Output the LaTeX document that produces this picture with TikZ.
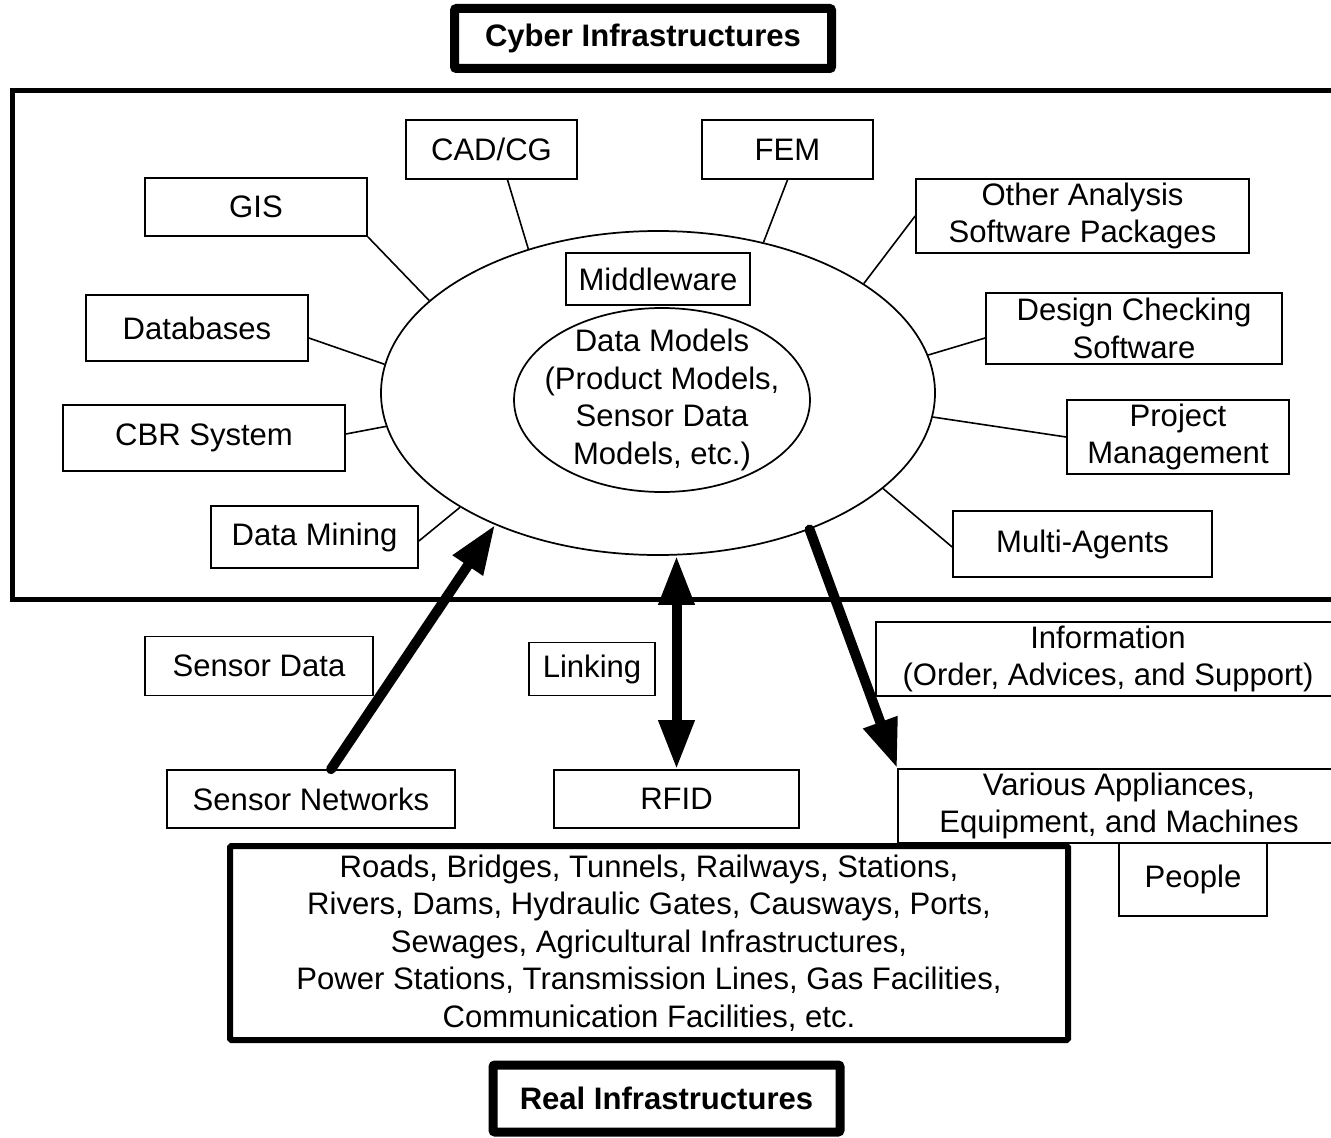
\documentclass[tikz,border=0pt]{standalone}
\usepackage{fontspec}
\setmainfont{Liberation Sans}
\usetikzlibrary{shapes.geometric,arrows.meta,calc}
\begin{document}
\begin{tikzpicture}[x=0.75pt,y=-0.75pt,
  sz/.style 2 args={minimum width=#1*0.75pt, minimum height=#2*0.75pt},
  txt/.style={inner sep=0pt, align=center, font=\fontsize{23.3}{28.1}\selectfont},
  box/.style={txt, draw, line width=1.3pt},
  ell/.style={draw, ellipse, inner sep=0pt, line width=1.3pt},
  titlebox/.style={draw, line width=6.75pt, rounded corners=1.5pt, inner sep=0pt, align=center, font=\fontsize{23.3}{28.1}\selectfont\bfseries},
  conn/.style={line width=1.2pt},
  tip/.style={Triangle[length=36.75pt,width=25.5pt]},
  bigarrow/.style={line width=7.5pt, line cap=round, -{Triangle[length=36.75pt,width=25.5pt]}}
]
\useasboundingbox (0,0) rectangle (1331,1138);
\clip (0,0) rectangle (1331,1138);

% frame of the cyber world
\node[draw, line width=3.75pt, sz={1338}{508}, inner sep=0pt] (frame) at (681,345) {};
\node[titlebox, sz={377}{60}] (cyber) at (643,38.5) {Cyber Infrastructures};

% central ellipses
\node[ell, sz={554}{324}] (outer) at (658,393) {};
\node[ell, sz={296}{184}] (inner) at (662,400) {};
\node[txt] (dmt) at (662,400) {Data Models\\(Product Models,\\Sensor Data\\Models, etc.)};
\node[box, sz={184}{52}] (mid) at (658,279) {Middleware};

% software boxes
\node[box, sz={171}{59}] (cad) at (491.5,149.5) {CAD/CG};
\node[box, sz={171}{59}] (fem) at (787.5,149.5) {FEM};
\node[box, sz={222}{58}] (gis) at (256,207) {GIS};
\node[box, sz={333}{74}] (other) at (1082.5,216) {Other Analysis\\Software Packages};
\node[box, sz={222}{66}] (db) at (197,328) {Databases};
\node[box, sz={296}{71}] (design) at (1134,328.5) {Design Checking\\Software};
\node[box, sz={282}{66}] (cbr) at (204,438) {CBR System};
\node[box, sz={222}{74}] (proj) at (1178,437) {Project\\Management};
\node[box, sz={207}{62}] (dm) at (314.5,537) {Data Mining};
\node[box, sz={259}{66}] (multi) at (1082.5,544) {Multi-Agents};

% connectors to the middleware ellipse
\draw[conn] (gis.south east) -- (outer.158);
\draw[conn] ($(cad.south)+(16,0)$) -- (outer.132.3);
\draw[conn] (fem.south) -- (outer.55.9);
\draw[conn] (other.west) -- (outer.28.9);
\draw[conn] ($(db.east)+(0,10)$) -- (outer.174.6);
\draw[conn] ($(design.west)+(0,9.5)$) -- (outer.8);
\draw[conn] ($(cbr.east)+(0,-4)$) -- (outer.187);
\draw[conn] (proj.west) -- (outer.-5.6);
\draw[conn] ($(dm.east)+(0,4)$) -- (outer.210.1);
\draw[conn] ($(multi.west)+(0,3)$) -- (outer.-23.5);

% lower boxes
\node[box, sz={228}{59}] (sd) at (259,666) {Sensor Data};
\node[box, sz={126}{53}] (link) at (592,669) {Linking};
\node[box, sz={464}{74}] (info) at (1108,659) {Information\\(Order, Advices, and Support)};
\node[box, sz={288}{58}] (sn) at (311,799) {Sensor Networks};
\node[box, sz={245}{58}] (rfid) at (676.5,799) {RFID};
\node[box, sz={442}{74}] (var) at (1119,806) {Various Appliances,\\Equipment, and Machines};
\node[box, sz={148}{73}] (ppl) at (1193,879.5) {People};

% real infrastructures
\node[draw, line width=4.5pt, rounded corners=1pt, sz={838}{194}, txt] (realbox) at (649,943)
  {Roads, Bridges, Tunnels, Railways, Stations,\\Rivers, Dams, Hydraulic Gates, Causways, Ports,\\Sewages, Agricultural Infrastructures,\\Power Stations, Transmission Lines, Gas Facilities,\\Communication Facilities, etc.};
\node[titlebox, sz={347}{67}] (real) at (666.5,1098.5) {Real Infrastructures};

% thick arrows
\draw[bigarrow] ($(sn.north)+(20,0)$) -- (outer.219.6);
\draw[line width=7.5pt, {Triangle[length=36.75pt,width=25.5pt]}-{Triangle[length=36.75pt,width=25.5pt]}] (rfid.north) -- (rfid.north |- outer.south);
\draw[bigarrow] (outer.-42.2) -- (var.north west);
\end{tikzpicture}
\end{document}
